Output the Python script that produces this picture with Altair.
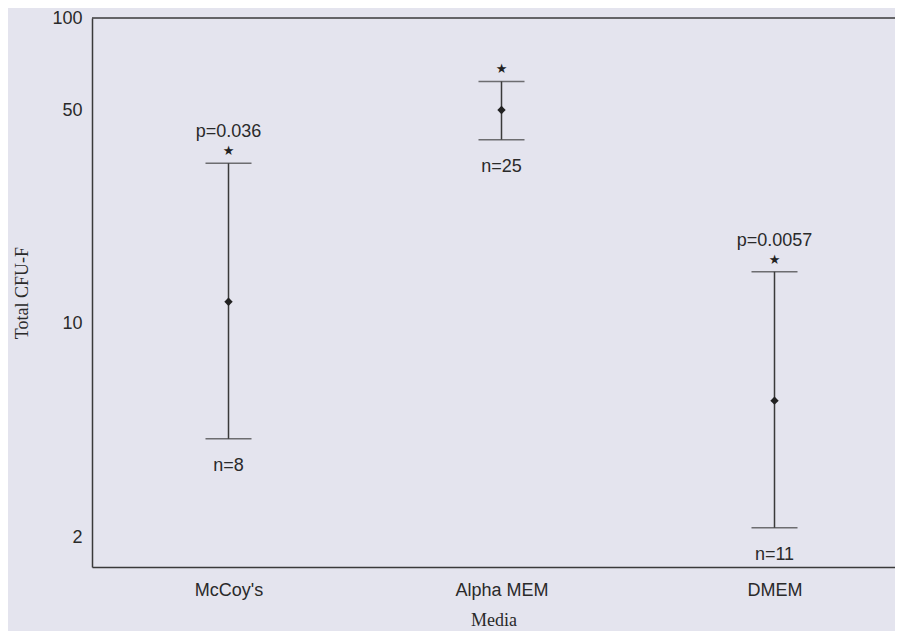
import altair as alt
import pandas as pd

categories = ["McCoy's", "Alpha MEM", "DMEM"]
means = [11.8, 50.0, 5.6]
upper = [33.5, 62.0, 14.8]
lower = [4.2, 40.0, 2.15]
p_labels = ["p=0.036", "", "p=0.0057"]
n_labels = ["n=8", "n=25", "n=11"]
stars = ["★", "★", "★"]
y_ticks = [2, 10, 50, 100]

df = pd.DataFrame({
    "idx": [i + 1 for i in range(len(categories))],
    "media": categories,
    "mean": means,
    "hi": upper,
    "lo": lower,
    "p": p_labels,
    "n": n_labels,
    "star": stars,
})

W, H = 803, 549
INK = "#3a3a3a"
TXT = "#2a2a2a"
label_expr = " : ".join(
    [f"datum.value == {i+1} ? '{c}'" for i, c in enumerate(categories)]
).replace("'McCoy's'", "\"McCoy's\"") + " : ''"

xs = alt.Scale(domain=[0.5, 0.5 + W / 273.0], nice=False, zero=False)
ys = alt.Scale(type="log", domain=[1.6, 100], nice=False)

x_enc = alt.X("idx:Q", scale=xs, axis=alt.Axis(
    values=[1, 2, 3], labelExpr=label_expr, title="Media", ticks=False, grid=False,
    labelFont="Liberation Sans", labelFontSize=18, labelColor=TXT, labelPadding=14,
    titleFont="Liberation Serif", titleFontSize=18, titleFontWeight="normal", titleColor=TXT,
    titleY=58, titleBaseline="alphabetic",
    domainColor=INK, domainWidth=1.5))
y_axis = alt.Axis(
    values=y_ticks, title="Total CFU-F", ticks=False, grid=False,
    labelFont="Liberation Sans", labelFontSize=18, labelColor=TXT, labelPadding=10,
    titleFont="Liberation Serif", titleFontSize=18, titleFontWeight="normal", titleColor=TXT,
    titleX=-70, titleBaseline="middle",
    domainColor=INK, domainWidth=1.5)

base = alt.Chart(df)

bars = base.mark_rule(color=INK, strokeWidth=1.5).encode(
    x=x_enc, y=alt.Y("lo:Q", scale=ys, axis=y_axis), y2="hi:Q")
cap_hi = base.mark_tick(orient="horizontal", size=46, thickness=1.5, color=INK).encode(
    x="idx:Q", y=alt.Y("hi:Q", scale=ys))
cap_lo = base.mark_tick(orient="horizontal", size=46, thickness=1.5, color=INK).encode(
    x="idx:Q", y=alt.Y("lo:Q", scale=ys))
pts = base.mark_point(shape="diamond", filled=True, size=70, color="#222222", opacity=1).encode(
    x="idx:Q", y=alt.Y("mean:Q", scale=ys))
star_t = base.mark_text(font="DejaVu Sans", fontSize=13, color="#222222",
                        baseline="middle", dy=-12).encode(
    x="idx:Q", y=alt.Y("hi:Q", scale=ys), text="star:N")
p_t = base.mark_text(font="Liberation Sans", fontSize=18, color=TXT,
                     baseline="middle", dy=-31).encode(
    x="idx:Q", y=alt.Y("hi:Q", scale=ys), text="p:N")
n_t = base.mark_text(font="Liberation Sans", fontSize=18, color=TXT,
                     baseline="middle", dy=27).encode(
    x="idx:Q", y=alt.Y("lo:Q", scale=ys), text="n:N")
top = alt.Chart(pd.DataFrame({"k": [0]})).mark_rule(color=INK, strokeWidth=1.5).encode(
    x=alt.value(0), x2=alt.value(W), y=alt.value(0))

chart = alt.layer(bars, cap_hi, cap_lo, pts, star_t, p_t, n_t, top).properties(
    width=W, height=H,
    autosize=alt.AutoSizeParams(type="none"),
    padding={"left": 84, "top": 10, "right": 0, "bottom": 64},
    background="#e4e4ee",
).configure_view(stroke=None)

chart.save("out.html", embed_options={"renderer": "svg", "actions": False})
